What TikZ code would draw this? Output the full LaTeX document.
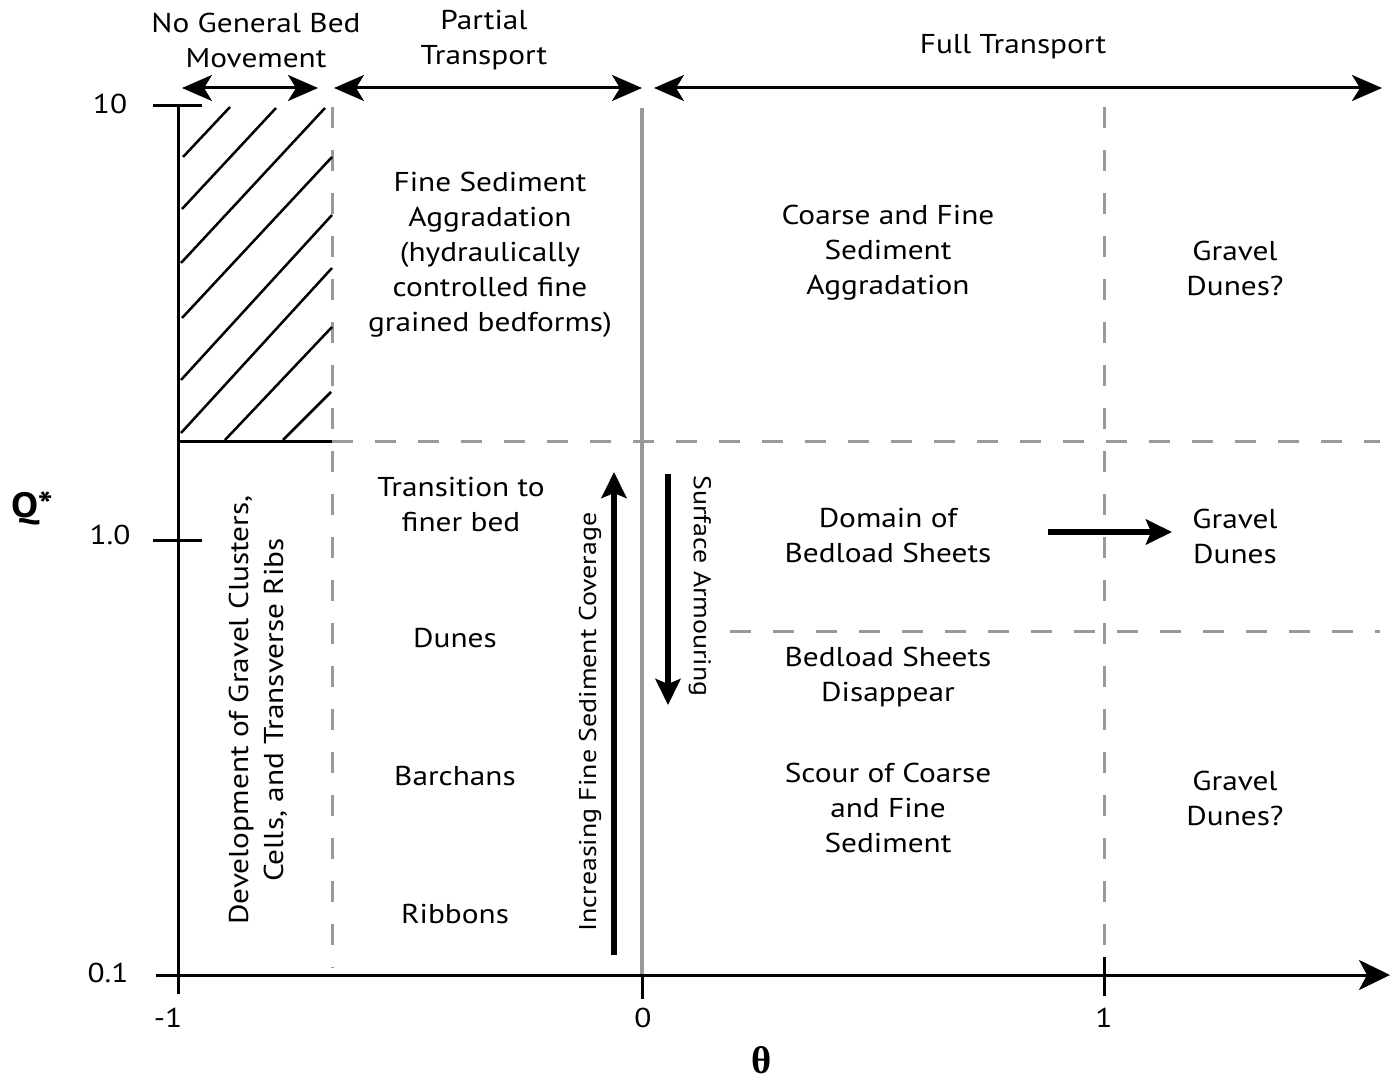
\documentclass[tikz,border=0pt]{standalone}
\usepackage{fontspec}
\setmainfont{PT Sans}[FakeStretch=1.15]
\newfontfamily\thetafont{Liberation Serif}
\usetikzlibrary{arrows.meta}
\begin{document}
\begin{tikzpicture}[x=0.02cm,y=-0.02cm,
  lbl/.style={font=\fontsize{15.5}{19.9}\selectfont, align=center, inner sep=0pt},
  smalllbl/.style={font=\fontsize{13.8}{17}\selectfont, align=center, inner sep=0pt},
  axisline/.style={line width=0.06cm, black},
  hatchline/.style={line width=0.05cm, black},
  gdash/.style={line width=0.06cm, black!40, dash pattern=on 0.42cm off 0.44cm},
  gsolid/.style={line width=0.07cm, black!40},
  toparrow/.style={line width=0.06cm, black, {Stealth[length=0.6cm,width=0.52cm,inset=0.16cm]}-{Stealth[length=0.6cm,width=0.52cm,inset=0.16cm]}},
  fatarrow/.style={line width=0.11cm, black, -{Stealth[length=0.52cm,width=0.5cm,inset=0.1cm]}},
  axarrow/.style={line width=0.06cm, black, -{Stealth[length=0.62cm,width=0.6cm,inset=0.16cm]}}
]
\useasboundingbox (0,0) rectangle (1393,1081);
\fill[white] (0,0) rectangle (1393,1081);

% coordinates
\coordinate (ytop) at (178,106);
\coordinate (ybot) at (178,994);
\coordinate (xleft) at (156,975);
\coordinate (xright) at (1390,975);
\coordinate (t10a) at (153,106);
\coordinate (t10b) at (202,106);
\coordinate (t1a) at (153,540);
\coordinate (t1b) at (202,540);
\coordinate (t0a) at (642,975);
\coordinate (t0b) at (642,999);
\coordinate (tx1a) at (1104,957);
\coordinate (tx1b) at (1104,996);

% gray grid lines
\coordinate (v1a) at (332,107);
\coordinate (v1b) at (332,968);
\coordinate (v2a) at (642,108);
\coordinate (v2b) at (642,975);
\coordinate (v3a) at (1104,107);
\coordinate (v3b) at (1104,955);
\coordinate (h1a) at (332,441);
\coordinate (h1b) at (1380,441);
\coordinate (h2a) at (730,631);
\coordinate (h2b) at (1380,631);
\coordinate (hb) at (178,441);

\draw[gdash] (v1a) -- (v1b);
\draw[gsolid] (v2a) -- (v2b);
\draw[gdash] (v3a) -- (v3b);
\draw[gdash] (h1a) -- (h1b);
\draw[gdash] (h2a) -- (h2b);

% hatched region
\draw[axisline] (hb) -- (h1a);
\draw[hatchline] (183,157) -- (230,107);
\draw[hatchline] (182,209) -- (276,108);
\draw[hatchline] (181,263) -- (325,108);
\draw[hatchline] (182,318) -- (332,157);
\draw[hatchline] (181,380) -- (332,215);
\draw[hatchline] (181,433) -- (332,268);
\draw[hatchline] (225,440) -- (332,327);
\draw[hatchline] (283,440) -- (331,392);

% axes
\draw[axisline] (ytop) -- (ybot);
\draw[axarrow] (xleft) -- (xright);
\draw[axisline] (t10a) -- (t10b);
\draw[axisline] (t1a) -- (t1b);
\draw[axisline] (t0a) -- (t0b);
\draw[axisline] (tx1a) -- (tx1b);

% tick labels
\node[lbl] (l10) at (110,104) {10};
\node[lbl] (l1) at (110,535) {1.0};
\node[lbl] (l01) at (108,973) {0.1};
\node[lbl] (lm1) at (168,1018) {-1};
\node[lbl] (lx0) at (643,1018) {0};
\node[lbl] (lx1) at (1104,1018) {1};
\node[font=\fontsize{20}{24}\selectfont\bfseries, inner sep=0pt] (qstar) at (32,508) {Q*};
\node[font=\fontsize{22}{25}\selectfont\thetafont\bfseries, inner sep=0pt] (theta) at (762,1060) {θ};

% top arrows
\coordinate (a1l) at (182,88);
\coordinate (a1r) at (318,88);
\coordinate (a2l) at (334,88);
\coordinate (a2r) at (642,88);
\coordinate (a3l) at (654,88);
\coordinate (a3r) at (1382,88);
\draw[toparrow] (a1l) -- (a1r);
\draw[toparrow] (a2l) -- (a2r);
\draw[toparrow] (a3l) -- (a3r);

\node[lbl] (nogen) at (256,40) {No General Bed\\Movement};
\node[lbl] (partial) at (484,40) {Partial\\Transport};
\node[lbl] (full) at (1013,47) {Full Transport};

% region labels
\node[lbl] (finesed) at (490,255) {Fine Sediment\\Aggradation\\(hydraulically\\controlled fine\\grained bedforms)};
\node[lbl] (coarse) at (888,253) {Coarse and Fine\\Sediment\\Aggradation};
\node[lbl] (gd1) at (1235,268) {Gravel\\Dunes?};
\node[lbl] (trans) at (461,505) {Transition to\\finer bed};
\node[lbl] (dunes) at (455,638) {Dunes};
\node[lbl] (barchans) at (455,776) {Barchans};
\node[lbl] (ribbons) at (455,914) {Ribbons};
\node[lbl, rotate=90] (devel) at (258,710) {Development of Gravel Clusters,\\Cells, and Transverse Ribs};
\node[smalllbl, rotate=90] (incr) at (590,722) {Increasing Fine Sediment Coverage};
\node[smalllbl, rotate=-90] (surf) at (700,586) {Surface Armouring};
\node[lbl] (domain) at (888,536) {Domain of\\Bedload Sheets};
\node[lbl] (gd2) at (1235,536) {Gravel\\Dunes};
\node[lbl] (bsd) at (888,677) {Bedload Sheets\\Disappear};
\node[lbl] (scour) at (888,808) {Scour of Coarse\\and Fine\\Sediment};
\node[lbl] (gd3) at (1235,798) {Gravel\\Dunes?};

% thick arrows
\coordinate (upb) at (614,955);
\coordinate (upt) at (614,472);
\coordinate (dnt) at (668,474);
\coordinate (dnb) at (668,705);
\coordinate (ral) at (1048,532);
\coordinate (rar) at (1172,532);
\draw[fatarrow] (upb) -- (upt);
\draw[fatarrow] (dnt) -- (dnb);
\draw[fatarrow] (ral) -- (rar);
\end{tikzpicture}
\end{document}
